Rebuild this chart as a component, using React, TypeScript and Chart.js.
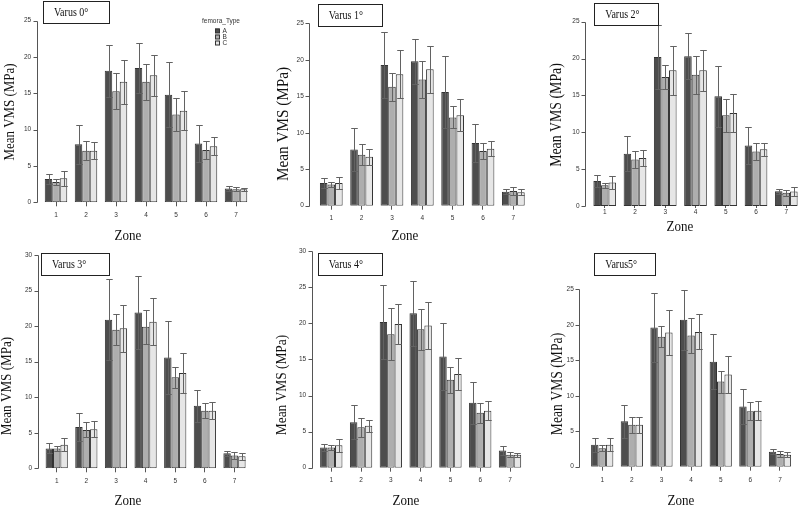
import React, { useEffect, useRef } from 'react';
import { Chart, registerables } from 'chart.js';

Chart.register(...registerables);

// ---------- data ----------
const zones = ['1', '2', '3', '4', '5', '6', '7'];
const femoraTypes = ['A', 'B', 'C'];
const panelTitles = ['Varus 0°', 'Varus 1°', 'Varus 2°', 'Varus 3°', 'Varus 4°', 'Varus5°'];
const yAxisTitle = 'Mean VMS (MPa)';
const xAxisTitle = 'Zone';
const legendTitle = 'femora_Type';
const yMaxes = [25, 25, 25, 30, 30, 25];
const yStep = 5;

// Varus 0°
const v0A = [3.2, 8.0, 18.1, 18.5, 14.8, 8.1, 1.9];
const v0B = [2.8, 7.1, 15.3, 16.6, 12.1, 7.2, 1.8];
const v0C = [3.3, 7.1, 16.6, 17.5, 12.6, 7.7, 1.8];
const v0Asd = [0.7, 2.7, 3.6, 3.4, 4.5, 2.5, 0.4];
const v0Bsd = [0.45, 1.3, 2.5, 2.5, 2.3, 1.3, 0.3];
const v0Csd = [1.0, 1.2, 3.0, 2.8, 2.7, 1.25, 0.2];
// Varus 1°
const v1A = [3.1, 7.7, 19.3, 19.8, 15.6, 8.6, 1.9];
const v1B = [2.9, 7.0, 16.3, 17.3, 12.1, 7.5, 2.0];
const v1C = [3.1, 6.7, 18.0, 18.7, 12.4, 7.8, 1.85];
const v1Asd = [0.7, 3.0, 4.5, 3.1, 4.9, 2.6, 0.35];
const v1Bsd = [0.4, 1.4, 1.9, 2.5, 1.5, 1.1, 0.6];
const v1Csd = [0.85, 1.1, 3.3, 3.2, 2.2, 1.0, 0.4];
// Varus 2°
const v2A = [3.4, 7.1, 20.2, 20.3, 14.9, 8.2, 2.0];
const v2B = [2.8, 6.3, 17.5, 17.8, 12.3, 7.4, 1.8];
const v2C = [3.2, 6.5, 18.4, 18.4, 12.6, 7.7, 1.95];
const v2Asd = [0.85, 2.4, 4.3, 3.1, 4.15, 2.45, 0.35];
const v2Bsd = [0.35, 1.1, 1.6, 2.55, 2.2, 1.2, 0.4];
const v2Csd = [0.9, 1.05, 3.3, 2.75, 2.55, 0.9, 0.65];
// Varus 3°
const v3A = [2.8, 5.8, 20.9, 21.9, 15.6, 8.8, 2.1];
const v3B = [2.8, 5.4, 19.5, 19.9, 12.8, 8.1, 1.8];
const v3C = [3.3, 5.5, 19.7, 20.6, 13.4, 8.1, 1.7];
const v3Asd = [0.7, 1.95, 5.7, 5.15, 5.1, 2.25, 0.3];
const v3Bsd = [0.4, 1.05, 2.2, 2.4, 1.5, 1.05, 0.5];
const v3Csd = [0.9, 1.1, 3.3, 3.3, 2.75, 1.2, 0.5];
// Varus 4°
const v4A = [2.8, 6.3, 20.2, 21.4, 15.4, 9.0, 2.4];
const v4B = [2.8, 5.6, 18.5, 19.2, 12.2, 7.6, 1.8];
const v4C = [3.1, 5.8, 19.9, 19.7, 13.0, 7.9, 1.8];
const v4Asd = [0.5, 2.35, 5.15, 4.5, 4.65, 2.9, 0.65];
const v4Bsd = [0.35, 1.35, 3.6, 2.85, 1.8, 1.4, 0.35];
const v4Csd = [0.9, 0.8, 2.8, 3.2, 2.2, 1.3, 0.3];
// Varus 5°
const v5A = [3.1, 6.4, 19.6, 20.7, 14.8, 8.5, 2.1];
const v5B = [2.6, 5.9, 18.3, 18.5, 12.0, 7.8, 1.8];
const v5C = [3.1, 5.9, 18.9, 19.0, 13.0, 7.9, 1.7];
const v5Asd = [1.0, 2.35, 4.9, 4.25, 3.9, 2.5, 0.35];
const v5Bsd = [0.45, 1.1, 1.5, 2.5, 1.55, 1.25, 0.4];
const v5Csd = [0.9, 1.1, 3.15, 2.45, 2.55, 1.3, 0.35];

const panelMeans = [
  [v0A, v0B, v0C], [v1A, v1B, v1C], [v2A, v2B, v2C],
  [v3A, v3B, v3C], [v4A, v4B, v4C], [v5A, v5B, v5C],
];
const panelSds = [
  [v0Asd, v0Bsd, v0Csd], [v1Asd, v1Bsd, v1Csd], [v2Asd, v2Bsd, v2Csd],
  [v3Asd, v3Bsd, v3Csd], [v4Asd, v4Bsd, v4Csd], [v5Asd, v5Bsd, v5Csd],
];

// ---------- styling / layout ----------
const CANVAS_W = 810;
const CANVAS_H = 508;
const Y_AXIS_BOX = 30;
const X_AXIS_BOX = 20;
const fills = ['#4D4D4D', '#AEAEAE', '#E6E6E6'];
const SERIF = '"Liberation Serif", "Times New Roman", serif';
const SANS = '"Liberation Sans", Arial, sans-serif';
const SQUEEZE = 0.87;
const TICK_FONT = 6.5;

type Layout = {
  axisX: number; left: number; right: number; yTop: number; y0: number;
  xoff: number; tick: number; box: number[]; yLab: number[]; zone: number[]; legend: boolean;
};

const layouts: Layout[] = [
  { axisX: 36.7, left: 41, right: 251, yTop: 20.7, y0: 202.3, xoff: 12.7, tick: 4, box: [43, 1, 109, 23], yLab: [10, 112, 14.9], zone: [128, 236, 15], legend: true },
  { axisX: 309.3, left: 316.1, right: 528.5, yTop: 23.3, y0: 205.7, xoff: 12.3, tick: 4, box: [317.7, 4.3, 381.7, 26], yLab: [283, 124, 17.5], zone: [405, 236, 15], legend: false },
  { axisX: 585, left: 589.6, right: 801.4, yTop: 21.7, y0: 206, xoff: 6.5, tick: 2, box: [594.3, 3.3, 658.3, 25], yLab: [557, 115, 15.9], zone: [680, 227, 15], legend: false },
  { axisX: 37.7, left: 41.9, right: 249.3, yTop: 255, y0: 468.3, xoff: 13.4, tick: 4, box: [41, 253.3, 109.3, 275], yLab: [7, 386, 15.1], zone: [128, 501, 15], legend: false },
  { axisX: 311.7, left: 316.4, right: 524.9, yTop: 251.2, y0: 467.7, xoff: 13, tick: 4, box: [317.7, 253.3, 381.7, 275], yLab: [282, 385, 15.4], zone: [406, 501, 15], legend: false },
  { axisX: 579.3, left: 587.4, right: 794.8, yTop: 289.3, y0: 466.7, xoff: 13.3, tick: 4, box: [594.3, 253.3, 655, 275], yLab: [558, 384, 15.7], zone: [681, 501, 15], legend: false },
];

function squeezedText(ctx: CanvasRenderingContext2D, text: string, x: number, y: number, size: number, align: CanvasTextAlign, rot = 0) {
  ctx.save();
  ctx.translate(x, y);
  if (rot) ctx.rotate(rot);
  ctx.scale(SQUEEZE, 1);
  ctx.font = `${size}px ${SERIF}`;
  ctx.fillStyle = '#111';
  ctx.textAlign = align;
  ctx.textBaseline = 'middle';
  ctx.fillText(text, 0, 0);
  ctx.restore();
}

function makePanelPlugin(idx: number) {
  const L = layouts[idx];
  const sds = panelSds[idx];
  const means = panelMeans[idx];
  return {
    id: 'panelDecor' + idx,
    afterDatasetsDraw(chart: any) {
      const ctx: CanvasRenderingContext2D = chart.ctx;
      const ys = chart.scales.y;
      ctx.save();
      ctx.strokeStyle = '#626262';
      ctx.lineWidth = 1;
      chart.data.datasets.forEach((_ds: any, di: number) => {
        const meta = chart.getDatasetMeta(di);
        meta.data.forEach((bar: any, j: number) => {
          const m = means[di][j];
          const s = sds[di][j];
          const x = Math.round(bar.x) + 0.5;
          const half = (bar.width - 1) / 2;
          const yHi = Math.round(ys.getPixelForValue(m + s)) + 0.5;
          const yLo = Math.round(ys.getPixelForValue(m - s)) + 0.5;
          ctx.beginPath();
          ctx.moveTo(x, yHi); ctx.lineTo(x, yLo);
          ctx.moveTo(x - half, yHi); ctx.lineTo(x + half, yHi);
          ctx.moveTo(x - half, yLo); ctx.lineTo(x + half, yLo);
          ctx.stroke();
        });
      });
      ctx.restore();
    },
    afterDraw(chart: any) {
      const ctx: CanvasRenderingContext2D = chart.ctx;
      const ys = chart.scales.y;
      ctx.save();
      // y axis line with ticks
      const ax = Math.round(L.axisX) + 0.5;
      ctx.strokeStyle = '#555';
      ctx.lineWidth = 1;
      ctx.beginPath();
      ctx.moveTo(ax, Math.round(ys.getPixelForValue(0)) + 0.5);
      ctx.lineTo(ax, Math.round(ys.getPixelForValue(yMaxes[idx])) + 0.5);
      ys.ticks.forEach((t: any) => {
        const py = Math.round(ys.getPixelForValue(t.value)) + 0.5;
        ctx.moveTo(ax, py);
        ctx.lineTo(ax - 4, py);
      });
      ctx.stroke();

      // title box
      const [bx1, by1, bx2, by2] = L.box;
      ctx.fillStyle = '#fff';
      ctx.fillRect(bx1, by1, bx2 - bx1, by2 - by1);
      ctx.strokeStyle = '#222';
      ctx.strokeRect(Math.round(bx1) + 0.5, Math.round(by1) + 0.5, Math.round(bx2 - bx1), Math.round(by2 - by1));
      squeezedText(ctx, panelTitles[idx], bx1 + 11, (by1 + by2) / 2 + 0.5, 11.5, 'left');

      // axis titles
      squeezedText(ctx, yAxisTitle, L.yLab[0], L.yLab[1], L.yLab[2], 'center', -Math.PI / 2);
      squeezedText(ctx, xAxisTitle, L.zone[0], L.zone[1], L.zone[2], 'center');

      // legend
      if (L.legend) {
        ctx.font = `${TICK_FONT}px ${SANS}`;
        ctx.fillStyle = '#333';
        ctx.textAlign = 'center';
        ctx.textBaseline = 'middle';
        ctx.fillText(legendTitle, 221, 21.5);
        femoraTypes.forEach((t, k) => {
          const cy = 30.5 + k * 6;
          ctx.fillStyle = fills[k];
          ctx.fillRect(215, cy - 2, 4.5, 4.5);
          ctx.strokeStyle = '#333';
          ctx.strokeRect(215.5, cy - 2 + 0.5, 4, 4);
          ctx.fillStyle = '#333';
          ctx.textAlign = 'left';
          ctx.fillText(t, 222.5, cy + 0.3);
        });
      }
      ctx.restore();
    },
  };
}

function makeChart(canvas: HTMLCanvasElement, idx: number) {
  const L = layouts[idx];
  const lineH = TICK_FONT * 1.2;
  return new Chart(canvas, {
    type: 'bar',
    data: {
      labels: zones,
      datasets: femoraTypes.map((t, k) => ({
        label: t,
        data: panelMeans[idx][k],
        backgroundColor: fills[k],
        borderColor: '#333',
        borderWidth: 1,
        borderSkipped: false,
        categoryPercentage: 0.75,
        barPercentage: 1,
      })),
    },
    options: {
      responsive: false,
      animation: false,
      events: [],
      layout: {
        padding: {
          left: L.left - Y_AXIS_BOX,
          right: CANVAS_W - L.right,
          top: L.yTop,
          bottom: CANVAS_H - L.y0 - X_AXIS_BOX,
        },
      },
      plugins: { legend: { display: false }, title: { display: false }, tooltip: { enabled: false } },
      scales: {
        x: {
          type: 'category',
          offset: true,
          grid: { display: true, drawOnChartArea: false, drawTicks: true, tickLength: L.tick, offset: false, color: '#555' },
          border: { display: false },
          ticks: {
            font: { family: SANS, size: TICK_FONT },
            color: '#333',
            padding: L.xoff - L.tick - lineH / 2,
            maxRotation: 0,
            autoSkip: false,
          },
          afterFit: (s: any) => { s.height = X_AXIS_BOX; },
        },
        y: {
          min: 0,
          max: yMaxes[idx],
          ticks: {
            stepSize: yStep,
            font: { family: SANS, size: TICK_FONT },
            color: '#333',
            padding: L.left - L.axisX + 5.5,
          },
          grid: { display: false, drawTicks: false },
          border: { display: false },
          afterFit: (s: any) => { s.width = Y_AXIS_BOX; },
        },
      },
    } as any,
    plugins: [makePanelPlugin(idx)],
  });
}

export default function App() {
  const refs = useRef<(HTMLCanvasElement | null)[]>([]);
  useEffect(() => {
    const charts = layouts.map((_, i) => makeChart(refs.current[i] as HTMLCanvasElement, i));
    return () => charts.forEach((c) => c.destroy());
  }, []);
  return (
    <div style={{ position: 'fixed', left: 0, top: 0, width: 798, height: 508, overflow: 'hidden', background: '#fff' }}>
      {layouts.map((_, i) => (
        <canvas
          key={i}
          ref={(el) => { refs.current[i] = el; }}
          width={CANVAS_W}
          height={CANVAS_H}
          style={{ position: 'absolute', left: 0, top: 0, width: CANVAS_W, height: CANVAS_H }}
        />
      ))}
    </div>
  );
}
